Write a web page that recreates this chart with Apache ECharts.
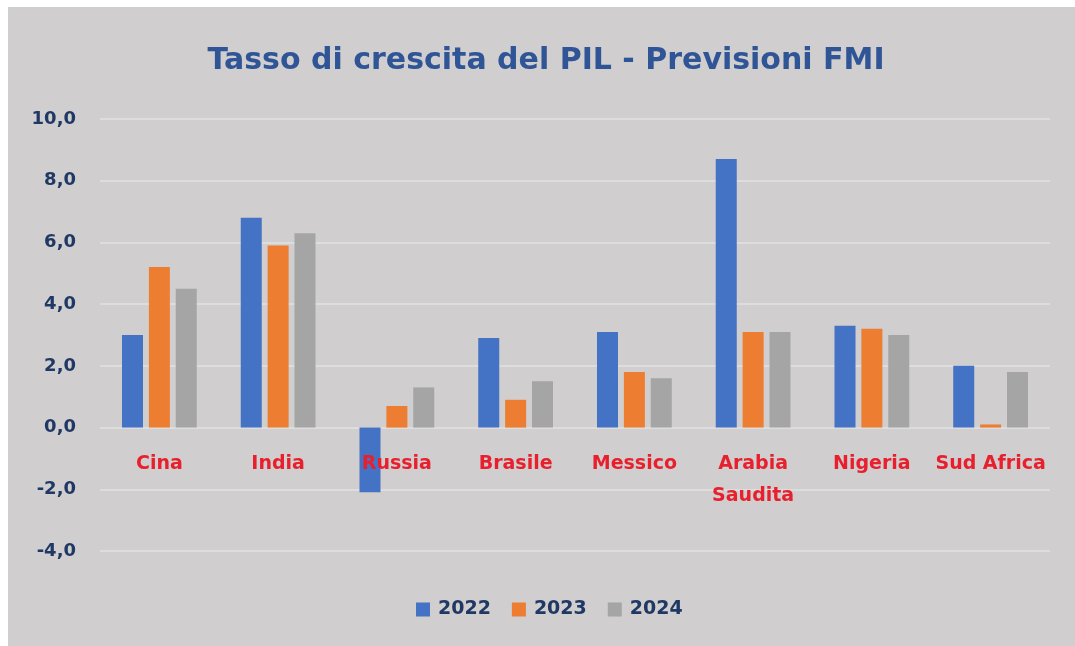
<!DOCTYPE html>
<html><head><meta charset="utf-8">
<script src="https://cdn.jsdelivr.net/npm/echarts@6/dist/echarts.min.js"></script>
<style>html,body{margin:0;padding:0;background:#fff;}#c{width:1075px;height:646px;}</style>
</head><body><div id="c"></div>
<script>
const categories = ['Cina','India','Russia','Brasile','Messico','Arabia\nSaudita','Nigeria','Sud Africa'];
const years = ['2022','2023','2024'];
const v2022 = [3.0, 6.8, -2.1, 2.9, 3.1, 8.7, 3.3, 2.0];
const v2023 = [5.2, 5.9, 0.7, 0.9, 1.8, 3.1, 3.2, 0.1];
const v2024 = [4.5, 6.3, 1.3, 1.5, 1.6, 3.1, 3.0, 1.8];
const colors = ['#4472c4','#ed7d31','#a5a5a5'];
const FONT = 'DejaVu Sans';

const chart = echarts.init(document.getElementById('c'));
const seriesData = [v2022, v2023, v2024];
chart.setOption({
  backgroundColor: '#ffffff',
  color: colors,
  graphic: [{type:'rect', z:-10, silent:true, shape:{x:8,y:7,width:1067,height:639}, style:{fill:'#d0cece'}}],
  title: {
    text: 'Tasso di crescita del PIL - Previsioni FMI',
    left: 541, top: 41, textAlign: 'center',
    textStyle: {fontFamily: FONT, fontSize: 30, fontWeight: 'bold', color: '#2f5597'}
  },
  legend: {
    data: years, left: 411, top: 595, itemWidth: 14, itemHeight: 14, itemGap: 21,
    icon: 'rect',
    textStyle: {fontFamily: FONT, fontSize: 19, fontWeight: 'bold', color: '#1f3864', padding:[0,0,0,3]}
  },
  grid: {left: 100, right: 25, top: 119, bottom: 95},
  xAxis: {
    type: 'category', data: categories, z: 10, position: 'bottom', offset: -123.4,
    axisLine: {show: false, onZero: false}, axisTick: {show: false},
    axisLabel: {margin: 20, fontFamily: FONT, fontSize: 19, fontWeight: 'bold', color: '#e8202e', lineHeight: 32, interval: 0}
  },
  yAxis: {
    type: 'value', min: -4, max: 10, interval: 2,
    axisLine: {show: false}, axisTick: {show: false},
    splitLine: {lineStyle: {color: '#e2e2e2', width: 1.5}},
    axisLabel: {margin: 24, fontFamily: FONT, fontSize: 18, fontWeight: 'bold', color: '#1f3864',
      formatter: v => v.toFixed(1).replace('.', ',')}
  },
  series: years.map((y, i) => ({
    name: y, type: 'bar', data: seriesData[i],
    barWidth: 21, barGap: '28%', barCategoryGap: '37%'
  }))
});
</script></body></html>
